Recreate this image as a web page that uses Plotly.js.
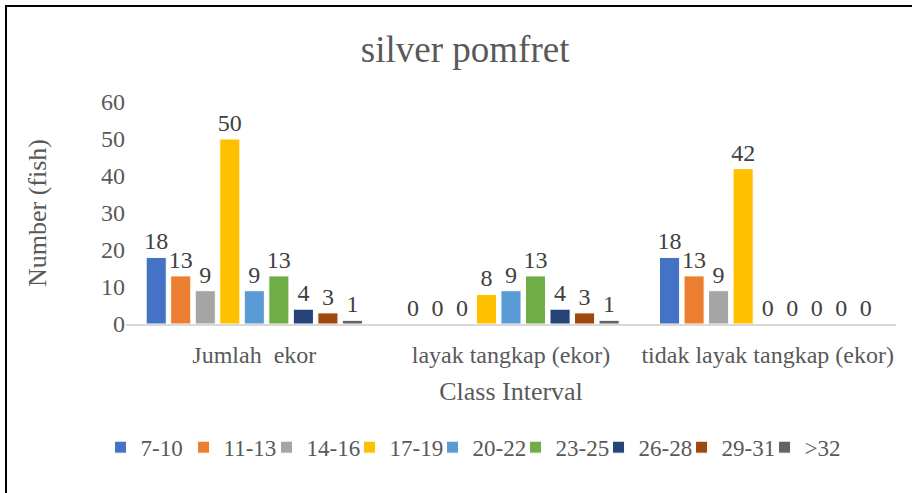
<!DOCTYPE html>
<html>
<head>
<meta charset="utf-8">
<script src="https://cdn.plot.ly/plotly-3.0.1.min.js"></script>
<style>
html,body{margin:0;padding:0;background:#fff;}
#wrap{position:relative;width:912px;height:493px;}
#chart{width:912px;height:493px;}
#frame{position:absolute;left:5px;top:5px;width:1000px;height:600px;border-left:2px solid #000;border-top:2px solid #000;pointer-events:none;}
</style>
</head>
<body>
<div id="wrap"><div id="chart"></div><div id="frame"></div></div>
<script>
const categories = ["Jumlah  ekor", "layak tangkap (ekor)", "tidak layak tangkap (ekor)"];
const seriesNames = ["7-10", "11-13", "14-16", "17-19", "20-22", "23-25", "26-28", "29-31", ">32"];
const s7_10  = [18, 0, 18];
const s11_13 = [13, 0, 13];
const s14_16 = [9, 0, 9];
const s17_19 = [50, 8, 42];
const s20_22 = [9, 9, 0];
const s23_25 = [13, 13, 0];
const s26_28 = [4, 4, 0];
const s29_31 = [3, 3, 0];
const s32    = [1, 1, 0];
const seriesValues = [s7_10, s11_13, s14_16, s17_19, s20_22, s23_25, s26_28, s29_31, s32];
const colors = ["#4472C4", "#ED7D31", "#A5A5A5", "#FFC000", "#5B9BD5", "#70AD47", "#264478", "#9E480E", "#636363"];

const font = "Liberation Serif";
const traces = seriesNames.map((n, i) => ({
  type: "bar",
  name: n,
  x: categories,
  y: seriesValues[i],
  marker: {color: colors[i], line: {color: "#ffffff", width: 1}},
  texttemplate: "%{y}",
  textposition: "outside",
  constraintext: "none",
  cliponaxis: false,
  textfont: {family: font, size: 24, color: "#404040"},
  hoverinfo: "none"
}));

const layout = {
  width: 912, height: 493,
  margin: {l: 126, r: 16, t: 102, b: 169},
  paper_bgcolor: "#fff", plot_bgcolor: "#fff",
  font: {family: font, color: "#595959"},
  title: {text: "silver pomfret", font: {family: font, size: 37, color: "#595959"}, x: 0.51, xanchor: "center", y: 0.9, yanchor: "middle"},
  barmode: "group",
  bargap: 0.14,
  bargroupgap: 0.18,
  showlegend: true,
  legend: {orientation: "h", x: 0.452, xanchor: "center", y: -0.555, yanchor: "middle",
           font: {family: font, size: 23, color: "#595959"}, itemwidth: 30, traceorder: "normal",
           entrywidth: 38, entrywidthmode: "pixels"},
  xaxis: {
    automargin: false,
    showline: true, linecolor: "#d9d9d9", linewidth: 2, ticks: "", showgrid: false,
    tickfont: {family: font, size: 24, color: "#595959"},
    ticklabelstandoff: 8,
    title: {text: "Class Interval", font: {family: font, size: 26, color: "#595959"}, standoff: 15}
  },
  yaxis: {
    automargin: false,
    range: [0, 60], dtick: 10, showgrid: false, zeroline: false, showline: false, ticks: "",
    tickfont: {family: font, size: 24, color: "#595959"},
    title: {text: "Number (fish)", font: {family: font, size: 26, color: "#595959"}, standoff: 46}
  }
};
Plotly.newPlot("chart", traces, layout, {displayModeBar: false, staticPlot: true});
</script>
</body>
</html>
